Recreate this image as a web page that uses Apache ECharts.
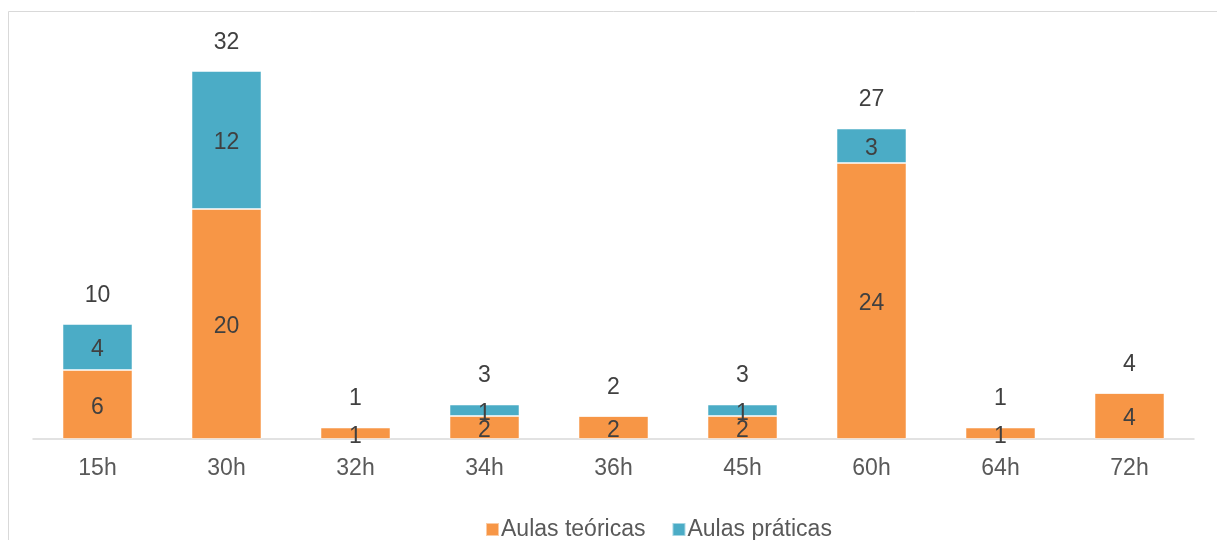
<!DOCTYPE html>
<html>
<head>
<meta charset="utf-8">
<script src="https://cdn.jsdelivr.net/npm/echarts@6/dist/echarts.min.js"></script>
<style>
  html, body { margin: 0; padding: 0; background: #fff; }
  #chart { width: 1217px; height: 540px; }
</style>
</head>
<body>
<div id="chart"></div>
<script>
// Carga horária das disciplinas
const categories = ['15h', '30h', '32h', '34h', '36h', '45h', '60h', '64h', '72h'];
const teoricas = [6, 20, 1, 2, 2, 2, 24, 1, 4];
const praticas = [4, 12, 0, 1, 0, 1, 3, 0, 0];
const totais = [10, 32, 1, 3, 2, 3, 27, 1, 4];

const FONT = '"Liberation Sans", Arial, sans-serif';
const labelStyle = {
  show: true,
  position: 'inside',
  offset: [0, 3],
  color: '#404040',
  fontSize: 23,
  fontFamily: FONT
};

const chart = echarts.init(document.getElementById('chart'), null, { renderer: 'canvas' });
chart.setOption({
  animation: false,
  backgroundColor: '#fff',
  graphic: [{
    type: 'rect',
    shape: { x: 8.5, y: 11.5, width: 1300, height: 600 },
    style: { fill: 'none', stroke: '#d9d9d9', lineWidth: 1 },
    silent: true,
    z: -1
  }],
  grid: { left: 33, right: 23, top: 36.5, bottom: 101 },
  legend: {
    data: ['Aulas teóricas', 'Aulas práticas'],
    left: 480,
    top: 513,
    itemWidth: 13,
    itemHeight: 13,
    itemGap: 26,
    icon: 'rect',
    textStyle: { color: '#595959', fontSize: 23, fontFamily: FONT, padding: [0, 0, 0, -3] }
  },
  xAxis: {
    type: 'category',
    data: categories,
    axisLine: { lineStyle: { color: '#d9d9d9', width: 1.5 } },
    axisTick: { show: false },
    axisLabel: { color: '#595959', fontSize: 23, fontFamily: FONT, margin: 18 }
  },
  yAxis: {
    type: 'value',
    min: 0,
    max: 35,
    show: false,
    splitLine: { show: false }
  },
  series: [
    {
      name: 'Aulas teóricas',
      type: 'bar',
      stack: 'carga',
      data: teoricas,
      barWidth: 70,
      barGap: '-100%',
      itemStyle: { color: '#F79646', borderColor: 'rgba(255,255,255,0.5)', borderWidth: 1 },
      label: labelStyle
    },
    {
      name: 'Aulas práticas',
      type: 'bar',
      stack: 'carga',
      data: praticas,
      barWidth: 70,
      barGap: '-100%',
      itemStyle: { color: '#4BACC6', borderColor: 'rgba(255,255,255,0.5)', borderWidth: 1 },
      label: Object.assign({}, labelStyle, {
        formatter: p => (p.value ? String(p.value) : '')
      })
    },
    {
      name: 'Total',
      type: 'bar',
      data: totais,
      barWidth: 70,
      barGap: '-100%',
      silent: true,
      itemStyle: { color: 'rgba(0,0,0,0)' },
      label: Object.assign({}, labelStyle, { position: 'top', distance: 20 }),
      z: 1
    }
  ]
});
</script>
</body>
</html>
